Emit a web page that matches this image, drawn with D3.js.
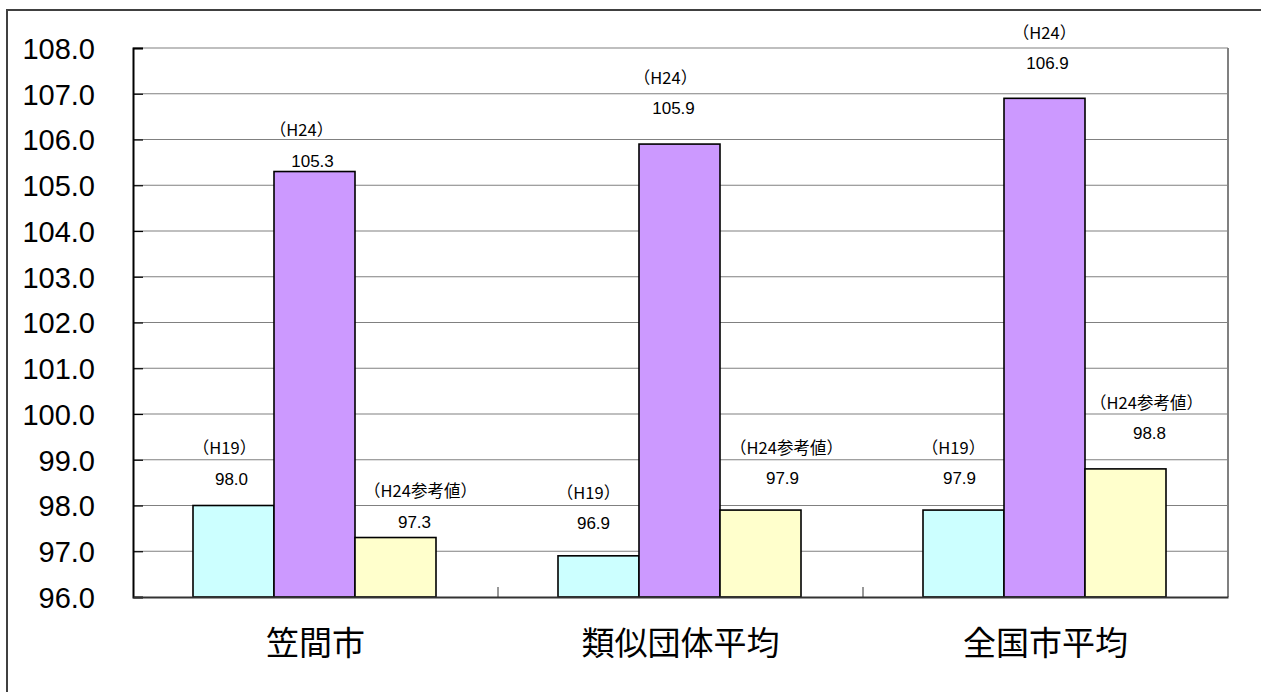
<!DOCTYPE html>
<html><head><meta charset="utf-8">
<script src="https://cdn.jsdelivr.net/npm/d3@7"></script>
<style>html,body{margin:0;padding:0;background:#fff;overflow:hidden}</style>
</head><body>
<svg id="c" width="1261" height="692"></svg>
<script>
const categories = ["笠間市", "類似団体平均", "全国市平均"];
const seriesNames = ["（H19）", "（H24）", "（H24参考値）"];
const h19 = [98.0, 96.9, 97.9];
const h24 = [105.3, 105.9, 106.9];
const h24ref = [97.3, 97.9, 98.8];
const yTicks = [96, 97, 98, 99, 100, 101, 102, 103, 104, 105, 106, 107, 108];

// layout of manually placed data labels (pixels): [dxLabel, dxValue, lift]
const labelLayout = [
  [[-9, -2, 27], [-13, -2, 11], [25, 19, 16]],
  [[-10, -5, 33], [-14, -6, 36], [26, 22, 32]],
  [[-10, -4, 32], [0, 3, 35], [21, 24, 36]]
];
const colors = ["#CCFFFF", "#CC99FF", "#FFFFCC"];

const svg = d3.select("#c");
const L = 133, R = 1228, T = 48, B = 597;
const y = d3.scaleLinear().domain([96, 108]).range([B, T]);
const x = d3.scaleBand().domain(categories).range([L, R]);
const barW = 81;
const xs = d3.scaleBand().domain(d3.range(3)).range([0, barW * 3]);

// outer frame
svg.append("rect").attr("x", 7).attr("y", 10).attr("width", 1300).attr("height", 700)
  .attr("fill", "none").attr("stroke", "#404040").attr("stroke-width", 2);

// gridlines
svg.append("g").selectAll("line").data(yTicks.filter(d => d > 96)).join("line")
  .attr("x1", L).attr("x2", R).attr("y1", d => y(d)).attr("y2", d => y(d))
  .attr("stroke", "#808080").attr("stroke-width", 1.2);
// right border
svg.append("line").attr("x1", R).attr("x2", R).attr("y1", T).attr("y2", B)
  .attr("stroke", "#808080").attr("stroke-width", 2);

// y axis
const yAxis = d3.axisLeft(y).tickValues(yTicks).tickSize(-10).tickFormat(d3.format(".1f")).tickPadding(38);
const ga = svg.append("g").attr("transform", `translate(${L},0)`).call(yAxis);
ga.select(".domain").attr("stroke", "#000").attr("stroke-width", 2);
ga.selectAll(".tick line").attr("stroke", "#000").attr("stroke-width", 1.2);
ga.selectAll(".tick text").attr("font-family", "Liberation Sans, Arial, sans-serif")
  .attr("font-size", 29).attr("fill", "#000").attr("dy", "0.36em");

// bars
const data = categories.map((c, i) => ({ c, i, vals: [h19[i], h24[i], h24ref[i]] }));
const groups = svg.append("g").selectAll("g").data(data).join("g")
  .attr("transform", d => `translate(${x(d.c) + x.bandwidth() / 2 - barW * 1.5 - 1},0)`);
groups.selectAll("rect").data(d => d.vals.map((v, k) => ({ v, k, i: d.i }))).join("rect")
  .attr("x", d => xs(d.k)).attr("width", barW)
  .attr("y", d => y(d.v)).attr("height", d => y(96) - y(d.v))
  .attr("fill", d => colors[d.k]).attr("stroke", "#000").attr("stroke-width", 1.6);

// labels
const lab = groups.selectAll("g.lab").data(d => d.vals.map((v, k) => ({ v, k, i: d.i }))).join("g").attr("class", "lab");
lab.append("text")
  .attr("x", d => xs(d.k) + barW / 2 + labelLayout[d.i][d.k][0])
  .attr("y", d => y(d.v) - labelLayout[d.i][d.k][2] - 30)
  .attr("dy", "0.36em").attr("text-anchor", "middle")
  .attr("font-family", "Noto Sans CJK JP, sans-serif").attr("font-size", 16.5)
  .text(d => seriesNames[d.k]);
lab.append("text")
  .attr("x", d => xs(d.k) + barW / 2 + labelLayout[d.i][d.k][1])
  .attr("y", d => y(d.v) - labelLayout[d.i][d.k][2])
  .attr("dy", "0.36em").attr("text-anchor", "middle")
  .attr("font-family", "Liberation Sans, Arial, sans-serif").attr("font-size", 17)
  .text(d => d3.format(".1f")(d.v));

// x axis
const xAxis = d3.axisBottom(x).tickSize(0).tickFormat(d => d);
const gx = svg.append("g").attr("transform", `translate(0,${B})`).call(xAxis);
gx.select(".domain").attr("stroke", "#333").attr("stroke-width", 2);
gx.selectAll(".tick text").attr("font-family", "Noto Sans CJK JP, sans-serif")
  .attr("font-size", 33).attr("fill", "#000").attr("dy", 0).attr("y", 58);
// category separator ticks
svg.append("g").selectAll("line").data(categories.slice(1)).join("line")
  .attr("x1", d => x(d)).attr("x2", d => x(d)).attr("y1", B - 10).attr("y2", B)
  .attr("stroke", "#333").attr("stroke-width", 1);
</script>
</body></html>
